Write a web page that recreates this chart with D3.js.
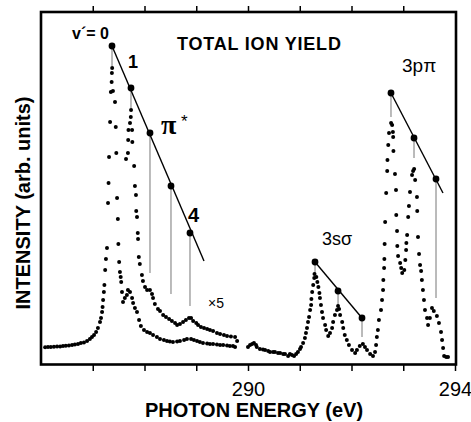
<!DOCTYPE html>
<html>
<head>
<meta charset="utf-8">
<script src="https://cdnjs.cloudflare.com/ajax/libs/d3/7.8.5/d3.min.js"></script>
<style>
  body { margin: 0; background: #fff; }
  text { font-family: "Liberation Sans", Arial, sans-serif; fill: #000; }
</style>
</head>
<body>
<div id="chart"></div>
<script>
// photon energy (eV), intensity (arb. units)
var piMain = [
  [286.08,4.2],[286.135,4.25],[286.19,4.25],[286.25,4.3],[286.31,4.4],[286.37,4.4],[286.425,4.5],
  [286.48,4.55],[286.54,4.6],[286.6,4.75],[286.655,4.9],[286.715,5.0],[286.77,5.25],[286.83,5.4],
  [286.89,5.75],[286.945,6.25],[286.985,6.75],[287.025,7.25],[287.065,8.0],[287.10,9.0],[287.14,10.5],
  [287.16,11.5],[287.18,13.0],[287.19,14.25],[287.20,16.0],[287.215,18.0],[287.225,19.75],[287.24,23.5],
  [287.255,26.25],[287.275,29.0],[287.295,40.25],[287.305,45.25],[287.315,51.75],[287.335,60.5],
  [287.35,68.0],[287.365,70.5],[287.37,72.75],[287.375,74.0],[287.39,68.25],[287.43,65.5],[287.445,59.25],
  [287.455,52.75],[287.47,41.5],[287.485,36.25],[287.495,30.0],[287.51,25.5],[287.525,23.0],[287.54,21.75],
  [287.55,20.5],[287.565,18.0],[287.585,15.5],[287.62,16.5],[287.66,17.25],[287.68,18.5],[287.72,18.0],
  [287.76,16.5],[287.78,15.25],[287.815,14.0],[287.855,13.0],[287.895,11.0],[287.93,9.5],[287.99,8.5],
  [288.05,8.0],[288.105,7.75],[288.165,7.25],[288.24,6.75],[288.30,6.25],[288.375,6.0],[288.435,5.75],
  [288.49,5.6],[288.55,5.5],[288.63,5.6],[288.685,5.75],[288.765,6.0],[288.82,6.25],[288.9,6.25],
  [288.955,6.0],[289.015,5.75],[289.07,5.5],[289.13,5.25],[289.21,5.1],[289.265,5.0],[289.325,5.0],
  [289.4,4.9],[289.46,4.75],[289.52,4.75],[289.595,4.6],[289.65,4.5],[289.71,4.5],[289.75,4.25]
];

// same region, magnified x5
var piTimes5 = [
  [287.643,51.25],[287.68,52.75],[287.685,56.0],[287.69,58.5],[287.72,60.25],[287.735,61.75],[287.74,63.5],
  [287.76,58.5],[287.765,55.5],[287.80,49.5],[287.815,44.5],[287.835,42.25],[287.84,38.25],[287.855,36.75],
  [287.87,32.75],[287.875,31.25],[287.89,26.75],[287.91,25.0],[287.95,22.25],[287.97,20.75],[288.01,19.25],
  [288.05,18.5],[288.105,18.5],[288.145,17.5],[288.165,16.5],[288.20,15.0],[288.26,13.75],[288.30,13.25],
  [288.36,12.25],[288.415,11.75],[288.475,11.25],[288.53,10.75],[288.59,10.25],[288.63,9.75],[288.685,10.0],
  [288.745,10.5],[288.80,11.0],[288.86,11.5],[288.90,11.5],[288.94,10.75],[289.00,10.25],[289.035,9.75],
  [289.09,9.25],[289.15,9.0],[289.21,8.75],[289.265,8.5],[289.325,8.25],[289.40,7.75],[289.46,7.5],
  [289.535,7.25],[289.595,7.0],[289.67,6.9],[289.75,6.75],[289.79,5.75]
];

// Rydberg region
var rydberg = [
  [290.00,4.25],[290.04,4.75],[290.08,5.0],[290.115,5.25],[290.155,4.75],[290.17,4.25],[290.23,3.75],
  [290.29,3.6],[290.33,3.5],[290.39,3.25],[290.425,3.0],[290.485,3.0],[290.52,3.0],[290.58,2.75],
  [290.62,2.75],[290.68,2.5],[290.715,2.5],[290.775,2.0],[290.81,2.5],[290.85,2.25],[290.89,2.0],
  [290.93,2.5],[290.965,3.0],[291.005,3.75],[291.025,4.25],[291.065,5.25],[291.10,6.5],[291.12,7.75],
  [291.14,9.0],[291.16,10.5],[291.18,11.75],[291.20,13.5],[291.22,14.75],[291.225,16.25],[291.24,18.0],
  [291.26,19.75],[291.28,21.5],[291.285,22.5],[291.32,21.75],[291.34,20.5],[291.36,19.25],[291.38,17.75],
  [291.39,16.5],[291.41,14.75],[291.43,13.0],[291.45,11.5],[291.49,9.75],[291.51,8.5],[291.55,7.0],
  [291.585,7.75],[291.625,9.0],[291.645,10.5],[291.68,12.25],[291.72,13.5],[291.74,14.5],[291.76,13.75],
  [291.78,12.25],[291.82,10.5],[291.84,9.0],[291.87,7.25],[291.91,6.0],[291.95,4.75],[292.01,3.5],
  [292.07,2.75],[292.105,3.5],[292.16,4.5],[292.22,5.0],[292.26,4.25],[292.30,3.5],[292.36,2.5],
  [292.415,2.0],[292.455,3.0],[292.475,4.75],[292.49,6.75],[292.51,8.5],[292.53,11.0],[292.57,13.5],
  [292.59,16.0],[292.61,18.5],[292.615,21.0],[292.63,24.0],[292.635,26.25],[292.64,30.0],[292.65,35.5],
  [292.67,42.75],[292.69,48.25],[292.695,51.0],[292.71,54.75],[292.725,57.75],[292.765,60.25],
  [292.785,59.75],[292.80,58.0],[292.805,56.75],[292.81,53.25],[292.84,47.5],[292.86,43.5],[292.865,37.25],
  [292.88,33.25],[292.885,29.5],[292.90,27.0],[292.94,25.25],[292.96,24.0],[292.98,22.75],[293.02,23.5],
  [293.04,26.0],[293.055,28.5],[293.06,30.25],[293.075,32.25],[293.095,36.75],[293.11,39.5],[293.13,43.0],
  [293.17,47.25],[293.19,48.25],[293.21,48.75],[293.23,46.0],[293.265,41.75],[293.27,38.25],[293.285,31.75],
  [293.305,27.5],[293.325,24.75],[293.345,23.25],[293.36,21.0],[293.38,18.5],[293.40,16.0],[293.42,13.5],
  [293.46,11.5],[293.48,9.75],[293.515,11.5],[293.555,14.0],[293.59,13.25],[293.65,12.0],[293.69,10.25],
  [293.73,8.0],[293.75,6.0],[293.77,4.0],[293.79,2.0],[293.83,1.75],[293.865,1.75]
];

// vibrational progressions: [energy, marker level, foot of drop line]
var piStarLevels = [[287.372,79.5,74.5],[287.739,69.0,64.0],[288.106,57.75,22.75],[288.512,44.5,17.5],[288.879,32.75,14.5]];
var piStarLineEnd = [289.15,25.75];
var sSigmaLevels = [[291.295,25.5,22.5],[291.74,18.25,14.5],[292.203,11.5,6.75]];
var pPiLevels = [[292.763,67.75,61.75],[293.208,56.5,51.5],[293.633,46.25,16.5]];
var pPiLineEnd = [293.768,42.75];

var tickValues = [287, 288, 289, 290, 291, 292, 293, 294];
var tickLabels = [290, 294];

var svgWidth = 471;
var svgHeight = 422;

var svg = d3.select("#chart")
  .append("svg")
  .attr("width", svgWidth)
  .attr("height", svgHeight);

var x = d3.scaleLinear().domain([286, 294]).range([41, 455]);
var y = d3.scaleLinear().domain([0, 88]).range([364, 12]);

// ticks
var bottomAxis = d3.axisBottom(x)
  .tickValues(tickValues)
  .tickSize(7)
  .tickPadding(9)
  .tickFormat(d => tickLabels.indexOf(d) >= 0 ? d : "");

var xAxis = svg.append("g")
  .attr("transform", "translate(0, 364)")
  .call(bottomAxis);
xAxis.select(".domain").remove();
xAxis.selectAll("line").attr("stroke", "#000").attr("stroke-width", 1.5);
xAxis.selectAll("text")
  .attr("font-size", "20px")
  .attr("font-family", "Liberation Sans, Arial, sans-serif")
  .attr("dy", "0.8em");

var topAxis = svg.append("g")
  .attr("transform", "translate(0, 12)")
  .call(d3.axisTop(x).tickValues(tickValues.slice(0, -1)).tickSize(6).tickFormat(""));
topAxis.select(".domain").remove();
topAxis.selectAll("line").attr("stroke", "#000").attr("stroke-width", 1.5);

// frame
svg.append("rect")
  .attr("x", 41)
  .attr("y", 12)
  .attr("width", 415)
  .attr("height", 352.5)
  .attr("fill", "none")
  .attr("stroke", "#000")
  .attr("stroke-width", 2.6);

// drop lines
function dropLines(levels) {
  svg.append("g").selectAll("line")
    .data(levels)
    .enter()
    .append("line")
    .attr("x1", d => x(d[0]))
    .attr("x2", d => x(d[0]))
    .attr("y1", d => y(d[1]))
    .attr("y2", d => y(d[2]))
    .attr("stroke", "#777")
    .attr("stroke-width", 1);
}
dropLines(piStarLevels);
dropLines(sSigmaLevels);
dropLines(pPiLevels);

// progression lines
var line = d3.line().x(d => x(d[0])).y(d => y(d[1]));
function progression(levels, end) {
  var pts = [levels[0], end || levels[levels.length - 1]];
  svg.append("path")
    .attr("d", line(pts))
    .attr("fill", "none")
    .attr("stroke", "#000")
    .attr("stroke-width", 1.4);
  svg.append("g").selectAll("circle")
    .data(levels)
    .enter()
    .append("circle")
    .attr("cx", d => x(d[0]))
    .attr("cy", d => y(d[1]))
    .attr("r", 3.4)
    .attr("fill", "#000");
}
progression(piStarLevels, piStarLineEnd);
progression(sSigmaLevels);
progression(pPiLevels, pPiLineEnd);

// data dots
function dots(data) {
  svg.append("g").selectAll("circle")
    .data(data)
    .enter()
    .append("circle")
    .attr("cx", d => x(d[0]))
    .attr("cy", d => y(d[1]))
    .attr("r", 2)
    .attr("fill", "#000");
}
dots(piMain);
dots(piTimes5);
dots(rydberg);

// labels
svg.append("text")
  .attr("transform", "translate(30, 203) rotate(-90)")
  .attr("text-anchor", "middle")
  .attr("font-size", "20px")
  .attr("font-weight", "bold")
  .text("INTENSITY (arb. units)");

svg.append("text")
  .attr("x", 254)
  .attr("y", 417)
  .attr("text-anchor", "middle")
  .attr("font-size", "20px")
  .attr("font-weight", "bold")
  .text("PHOTON ENERGY (eV)");

svg.append("text")
  .attr("x", 177)
  .attr("y", 50)
  .attr("font-size", "18px")
  .attr("font-weight", "bold")
  .attr("letter-spacing", "0.8px")
  .text("TOTAL ION YIELD");

svg.append("text").attr("x", 72).attr("y", 39)
  .attr("font-size", "16px").attr("font-weight", "bold").text("v\u00b4= 0");
svg.append("text").attr("x", 128).attr("y", 68)
  .attr("font-size", "18px").attr("font-weight", "bold").text("1");
svg.append("text").attr("x", 188).attr("y", 222)
  .attr("font-size", "20px").attr("font-weight", "bold").text("4");

svg.append("text").attr("x", 161).attr("y", 134)
  .attr("font-size", "28px")
  .attr("font-weight", "bold")
  .style("font-family", "Liberation Serif, serif")
  .text("\u03c0");
svg.append("text").attr("x", 181).attr("y", 127)
  .attr("font-size", "17px").text("*");

svg.append("text").attr("x", 208).attr("y", 308)
  .attr("font-size", "14px").text("\u00d75");

svg.append("text").attr("x", 322).attr("y", 245)
  .attr("font-size", "18px").text("3s\u03c3");

svg.append("text").attr("x", 402).attr("y", 72)
  .attr("font-size", "19px").text("3p\u03c0");
</script>
</body>
</html>
